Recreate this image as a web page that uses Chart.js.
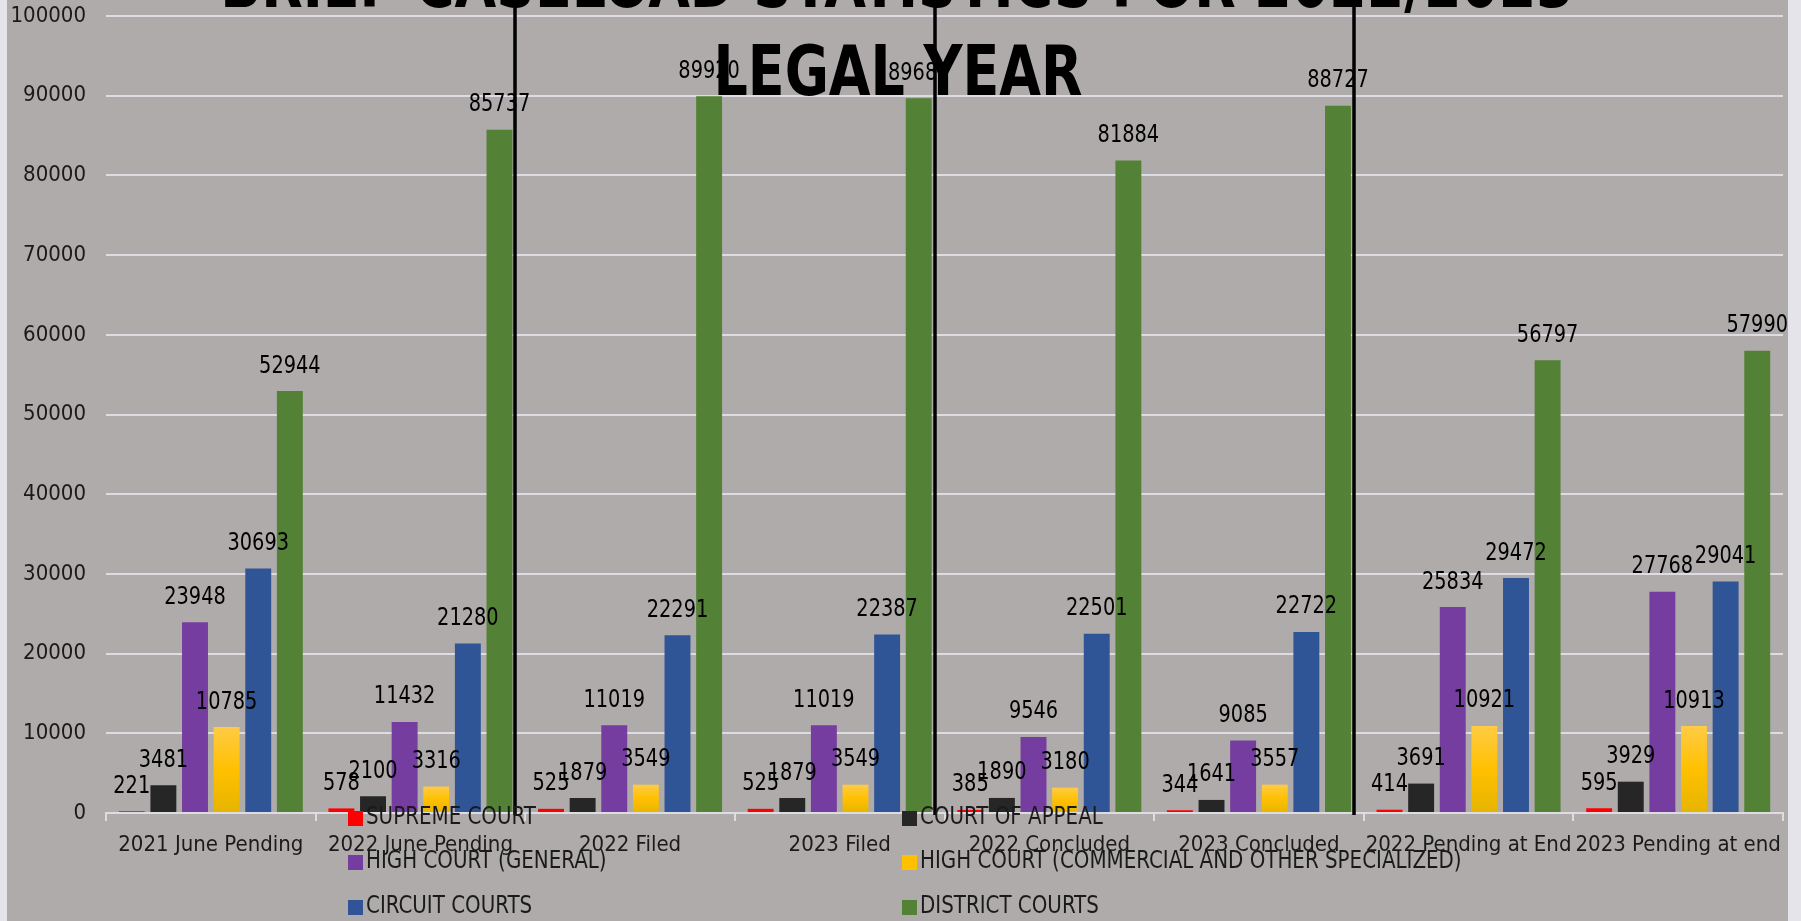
<!DOCTYPE html>
<html>
<head>
<meta charset="utf-8">
<script src="https://cdn.jsdelivr.net/npm/chart.js@4.4.1/dist/chart.umd.min.js"></script>
<style>
  html, body { margin: 0; padding: 0; background: #e4e4ea; }
  #wrap { width: 1801px; height: 921px; }
</style>
</head>
<body>
<div id="wrap"><canvas id="myChart" width="1801" height="921"></canvas></div>
<script>
var categories = ['2021 June Pending', '2022 June Pending', '2022 Filed', '2023 Filed',
                  '2022 Concluded', '2023 Concluded', '2022 Pending at End', '2023 Pending at end'];
var supremeCourt    = [221, 578, 525, 525, 385, 344, 414, 595];
var courtOfAppeal   = [3481, 2100, 1879, 1879, 1890, 1641, 3691, 3929];
var highCourtGen    = [23948, 11432, 11019, 11019, 9546, 9085, 25834, 27768];
var highCourtComm   = [10785, 3316, 3549, 3549, 3180, 3557, 10921, 10913];
var circuitCourts   = [30693, 21280, 22291, 22387, 22501, 22722, 29472, 29041];
var districtCourts  = [52944, 85737, 89920, 89680, 81884, 88727, 56797, 57990];
var yTickValues     = [0, 10000, 20000, 30000, 40000, 50000, 60000, 70000, 80000, 90000, 100000];
var titleLines      = ['BRIEF CASELOAD STATISTICS FOR 2022/2023', 'LEGAL YEAR'];

var FONT = "'Liberation Sans Narrow', 'DejaVu Sans Condensed', 'Liberation Sans', sans-serif";
Chart.defaults.font.family = FONT;
Chart.defaults.color = '#1a1a1a';

// squeeze text sideways a little so it reads like the narrow Office font
function squeezed(c, text, x, y, sx) {
    c.save();
    c.translate(x, y);
    c.scale(sx, 1);
    c.fillText(text, 0, 0);
    c.restore();
}

// gold bars get a top-to-bottom gradient like the original
function goldFill(c) {
    if (c.type !== 'data' || !c.chart.scales.y) return '#FFC000';
    var y = c.chart.scales.y;
    var top = y.getPixelForValue(c.parsed.y), base = y.getPixelForValue(0);
    if (!isFinite(top) || top === base) return '#FFC000';
    var g = c.chart.ctx.createLinearGradient(0, top, 0, base);
    g.addColorStop(0, '#FFCB45');
    g.addColorStop(0.5, '#FFC000');
    g.addColorStop(1, '#E6B400');
    return g;
}

var bgPlugin = {
    id: 'bg',
    beforeDraw: function(chart) {
        var c = chart.ctx;
        c.save();
        c.fillStyle = '#e4e4ea';
        c.fillRect(0, 0, chart.width, chart.height);
        c.fillStyle = '#afabab';
        c.fillRect(7, 0, chart.width - 20, chart.height);
        c.restore();
    }
};

var valuePlugin = {
    id: 'values',
    afterDatasetsDraw: function(chart) {
        var c = chart.ctx;
        c.save();
        c.font = '25px ' + FONT;
        c.fillStyle = '#000';
        c.textAlign = 'center';
        c.textBaseline = 'middle';
        chart.data.datasets.forEach(function(ds, i) {
            chart.getDatasetMeta(i).data.forEach(function(bar, j) {
                squeezed(c, String(ds.data[j]), bar.x, bar.y - 25, 0.86);
            });
        });
        c.restore();
    }
};

var overlayPlugin = {
    id: 'overlay',
    afterDraw: function(chart) {
        var c = chart.ctx, x = chart.scales.x, area = chart.chartArea;
        c.save();
        // title, drawn over the plot like the pasted text box
        c.fillStyle = '#000';
        c.font = 'bold 70px ' + FONT;
        c.textAlign = 'center';
        c.textBaseline = 'alphabetic';
        squeezed(c, titleLines[0], 897, 7, 0.855);
        squeezed(c, titleLines[1], 898, 95, 0.855);
        // black divider lines
        c.strokeStyle = '#000';
        c.lineWidth = 3.5;
        [1.5, 3.5, 5.5].forEach(function(v) {
            var px = Math.round(x.getPixelForValue(v)) - 10;
            c.beginPath();
            c.moveTo(px, 0);
            c.lineTo(px, area.bottom + 2);
            c.stroke();
        });
        // legend, two columns over the axis labels
        c.font = '24px ' + FONT;
        c.textAlign = 'left';
        c.textBaseline = 'middle';
        var cols = [348, 902], rows = [818, 862, 907];
        chart.data.datasets.forEach(function(ds, i) {
            var lx = cols[i % 2], ly = rows[Math.floor(i / 2)];
            c.fillStyle = ds.legendColor;
            c.fillRect(lx, ly - 7, 15, 15);
            c.fillStyle = '#1a1a1a';
            squeezed(c, ds.label, lx + 18, ly, 0.92);
        });
        c.restore();
    }
};

var ctx = document.getElementById('myChart').getContext('2d');
var myChart = new Chart(ctx, {
    type: 'bar',
    data: {
        labels: categories,
        datasets: [
            { label: 'SUPREME COURT', data: supremeCourt, backgroundColor: '#FF0000', legendColor: '#FF0000' },
            { label: 'COURT OF APPEAL', data: courtOfAppeal, backgroundColor: '#262626', legendColor: '#262626' },
            { label: 'HIGH COURT (GENERAL)', data: highCourtGen, backgroundColor: '#763DA0', legendColor: '#763DA0' },
            { label: 'HIGH COURT (COMMERCIAL AND OTHER SPECIALIZED)', data: highCourtComm, backgroundColor: goldFill, legendColor: '#FFC000' },
            { label: 'CIRCUIT COURTS', data: circuitCourts, backgroundColor: '#2F5597', legendColor: '#2F5597' },
            { label: 'DISTRICT COURTS', data: districtCourts, backgroundColor: '#538135', legendColor: '#538135' }
        ]
    },
    options: {
        responsive: false,
        animation: false,
        datasets: { bar: { categoryPercentage: 0.905, barPercentage: 0.82 } },
        layout: { padding: { top: 16, right: 18, left: 0, bottom: 0 } },
        plugins: { legend: { display: false }, tooltip: { enabled: false } },
        scales: {
            x: {
                afterFit: function(s) { s.height = 108; },
                grid: { drawOnChartArea: false, drawTicks: true, tickLength: 8, color: '#dcdce2', lineWidth: 2 },
                border: { display: true, color: '#dcdce2', width: 2 },
                ticks: { font: { size: 22 }, color: '#1a1a1a', maxRotation: 0, autoSkip: false, padding: 11 }
            },
            y: {
                min: 0,
                max: 100000,
                afterBuildTicks: function(axis) { axis.ticks = yTickValues.map(function(v) { return { value: v }; }); },
                afterFit: function(s) { s.width = 106; s.paddingTop = 0; s.paddingBottom = 0; },
                grid: { color: '#dcdce2', lineWidth: 2, drawTicks: false },
                border: { display: false },
                ticks: { font: { size: 22 }, color: '#1a1a1a', padding: 20,
                         callback: function(v) { return String(v); } }
            }
        }
    },
    plugins: [bgPlugin, valuePlugin, overlayPlugin]
});
</script>
</body>
</html>
